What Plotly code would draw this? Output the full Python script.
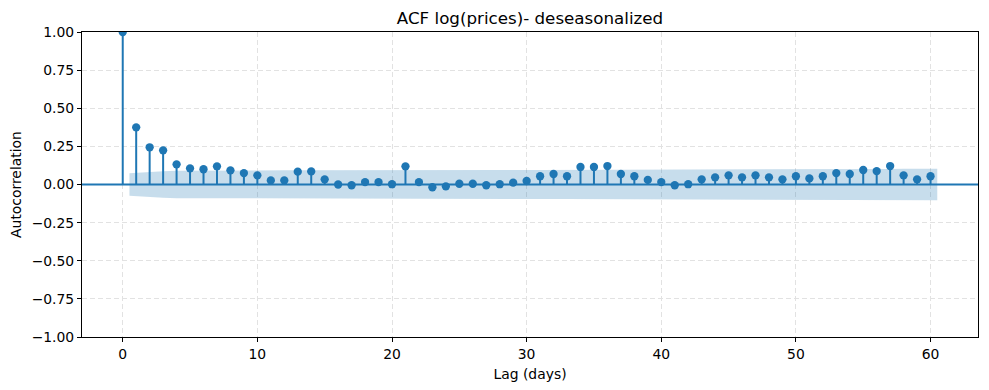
import plotly.graph_objects as go

lags = list(range(0, 61))
acf_vals = [1.0, 0.375, 0.244, 0.224, 0.132, 0.106, 0.100, 0.119, 0.093, 0.075, 0.060,
            0.027, 0.027, 0.084, 0.086, 0.034, 0.000, -0.005, 0.016, 0.016, 0.002,
            0.119, 0.016, -0.018, -0.012, 0.005, 0.005, -0.005, 0.002, 0.012, 0.023,
            0.054, 0.069, 0.054, 0.115, 0.115, 0.121, 0.069, 0.054, 0.030, 0.016,
            -0.005, 0.002, 0.034, 0.047, 0.060, 0.047, 0.060, 0.047, 0.034, 0.054,
            0.040, 0.054, 0.075, 0.069, 0.095, 0.088, 0.121, 0.060, 0.034, 0.054]
# confidence band half-width for lags 1..60 (read from the shaded area)
band_half = [0.0730, 0.0826, 0.0864, 0.0894, 0.0905, 0.0911, 0.0917, 0.0925, 0.0930, 0.0933,
             0.0935, 0.0936, 0.0936, 0.0940, 0.0944, 0.0945, 0.0945, 0.0945, 0.0945, 0.0945,
             0.0945, 0.0953, 0.0954, 0.0954, 0.0954, 0.0954, 0.0954, 0.0954, 0.0954, 0.0954,
             0.0954, 0.0955, 0.0958, 0.0959, 0.0967, 0.0974, 0.0982, 0.0985, 0.0987, 0.0987,
             0.0988, 0.0988, 0.0988, 0.0988, 0.0990, 0.0991, 0.0992, 0.0995, 0.0996, 0.0997,
             0.0999, 0.1000, 0.1001, 0.1004, 0.1007, 0.1013, 0.1018, 0.1027, 0.1029, 0.1030]
y_ticks = [-1.0, -0.75, -0.5, -0.25, 0.0, 0.25, 0.5, 0.75, 1.0]
x_ticks = [0, 10, 20, 30, 40, 50, 60]

BLUE = "#1f77b4"
FONT = "DejaVu Sans"

fig = go.Figure()

# confidence band
band_x = [float(l) for l in lags[1:]]
band_x[0] -= 0.5
band_x[-1] += 0.5
fig.add_trace(go.Scatter(
    x=band_x + band_x[::-1],
    y=band_half + [-v for v in band_half[::-1]],
    fill="toself", fillcolor="rgba(31,119,180,0.25)",
    line=dict(width=0), mode="lines", hoverinfo="skip", showlegend=False))

# stems
sx, sy = [], []
for l, v in zip(lags, acf_vals):
    sx += [l, l, None]
    sy += [0, v, None]
fig.add_trace(go.Scatter(x=sx, y=sy, mode="lines", line=dict(color=BLUE, width=2),
                         showlegend=False, hoverinfo="skip"))

# markers
fig.add_trace(go.Scatter(x=lags, y=acf_vals, mode="markers",
                         marker=dict(color=BLUE, size=8.3), showlegend=False))

fig.add_shape(type="line", xref="paper", x0=0, x1=1, yref="y", y0=0, y1=0,
              line=dict(color=BLUE, width=2), layer="above")

# page body has an 8px margin, so the figure is offset by 8px
W, H = 981, 382
fig.update_layout(
    width=W, height=H,
    margin=dict(l=74, r=11, t=24, b=53),
    paper_bgcolor="white", plot_bgcolor="white",
    font=dict(family=FONT, color="black", size=13.9),
    title=dict(text="ACF log(prices)- deseasonalized", x=0.5, xref="paper",
               y=1 - 10 / H, yref="container", yanchor="middle", xanchor="center",
               font=dict(size=16.7, family=FONT, color="black")),
)
axis_common = dict(showline=True, mirror=True, linecolor="black", linewidth=1,
                   ticks="outside", ticklen=4, tickwidth=1, tickcolor="black",
                   showgrid=True, gridcolor="#e2e2e2", griddash="5px,3px", gridwidth=1,
                   zeroline=False, automargin=False, tickfont=dict(size=13.9, family=FONT))
fig.update_xaxes(range=[-3.025, 63.525], tickvals=x_ticks,
                 title=dict(text="Lag (days)", font=dict(size=13.9, family=FONT), standoff=8),
                 **axis_common)
fig.update_yaxes(range=[-1, 1], tickvals=y_ticks, tickformat=".2f",
                 title=dict(text="Autocorrelation", font=dict(size=13.9, family=FONT), standoff=8),
                 **axis_common)

fig.write_html("out.html")
